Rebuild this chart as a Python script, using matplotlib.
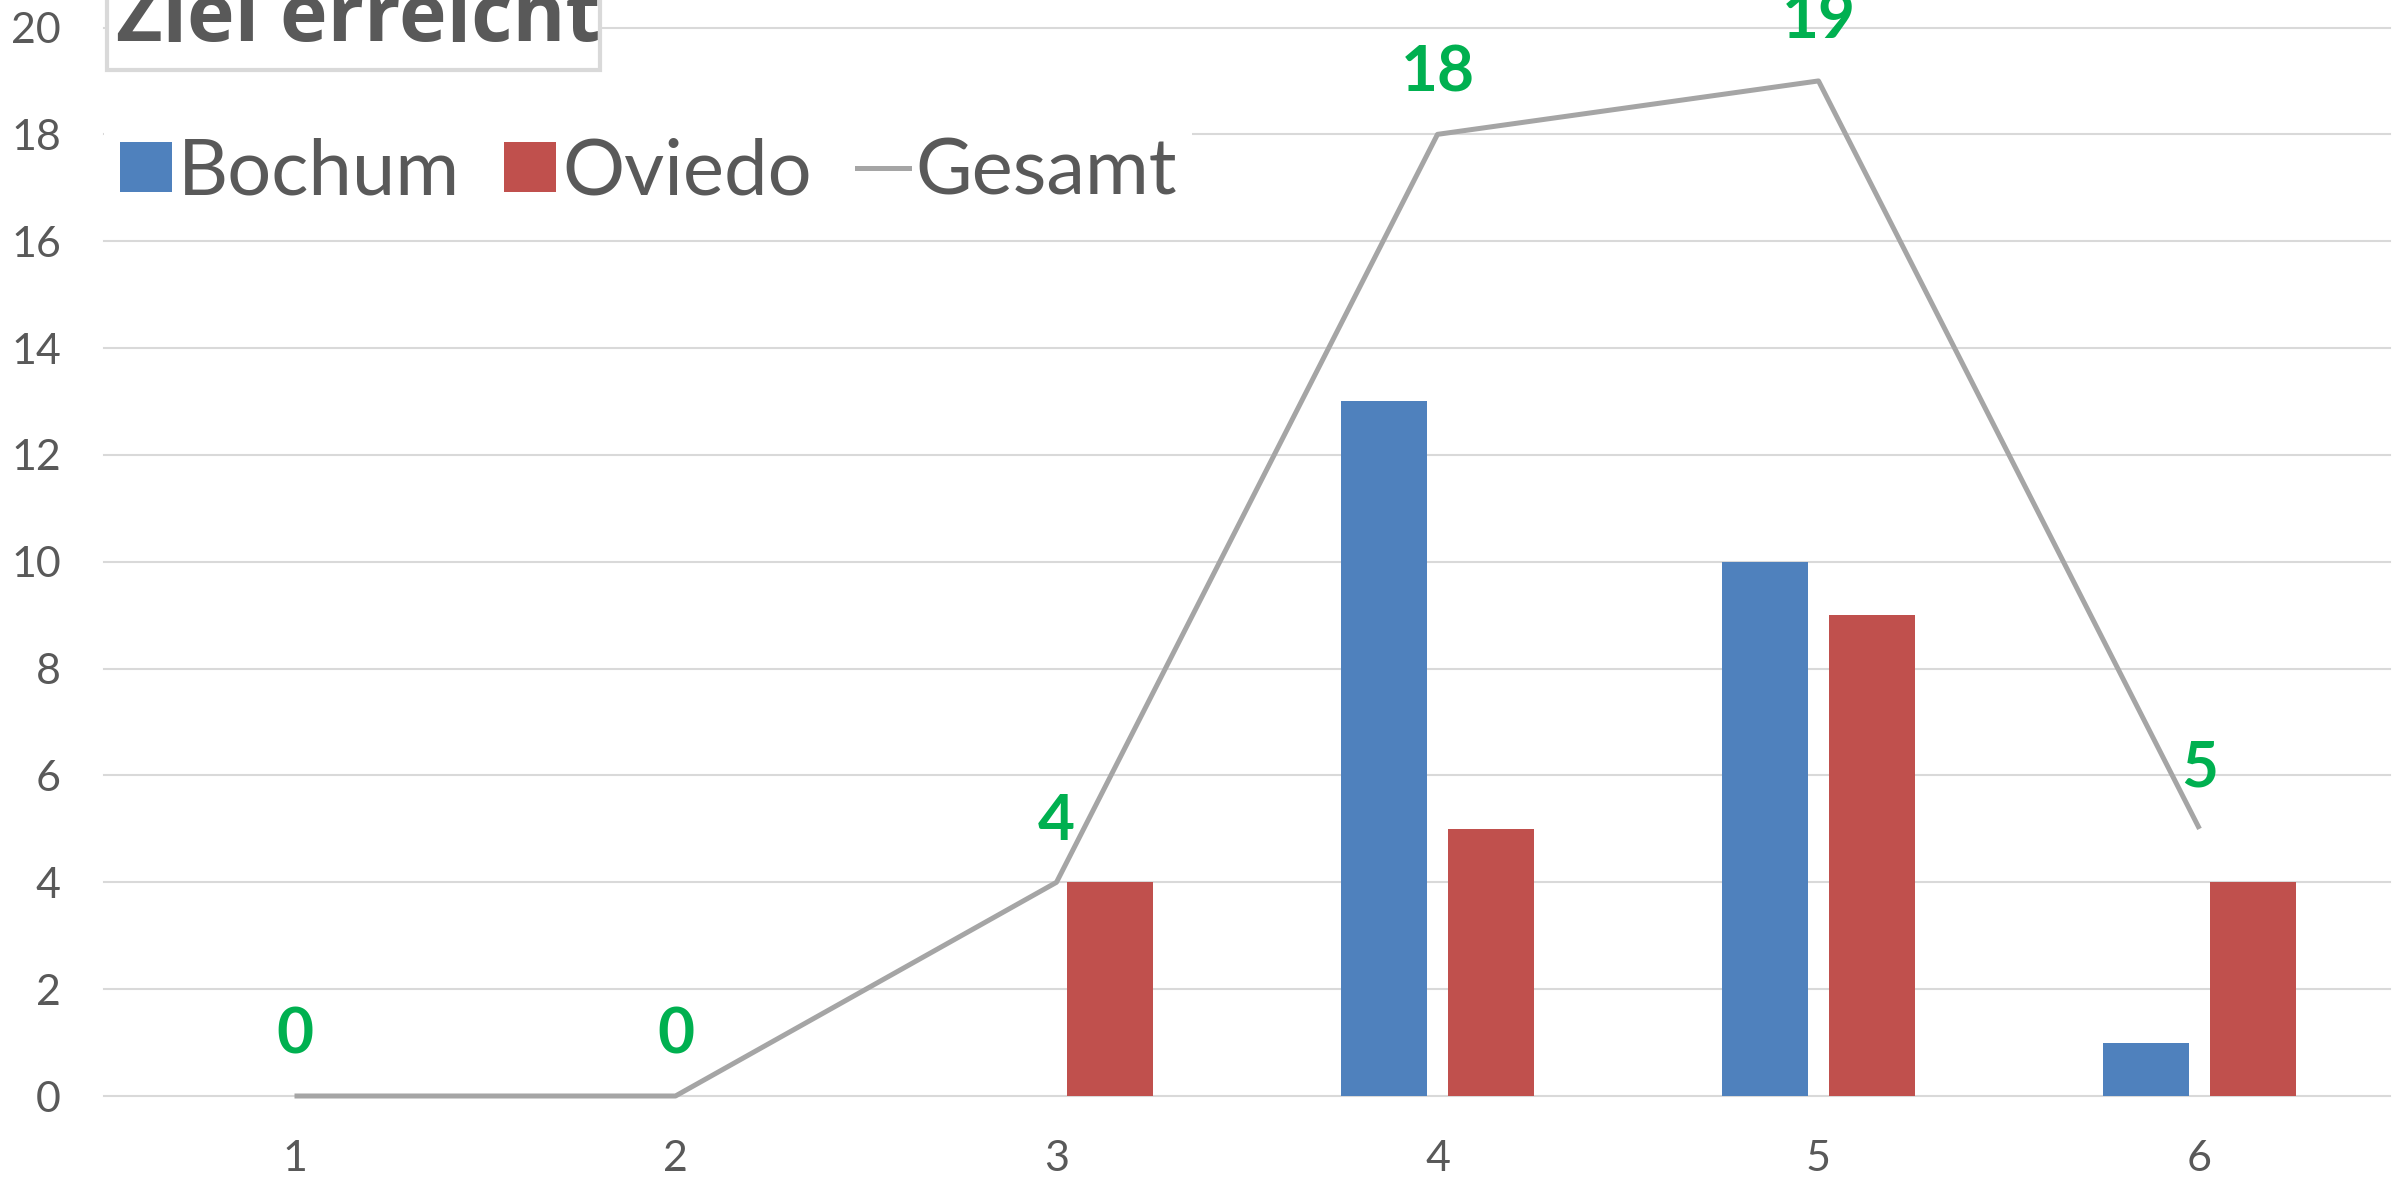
import matplotlib
matplotlib.use("Agg")
import matplotlib.pyplot as plt
from matplotlib.patches import Rectangle, Patch
from matplotlib.lines import Line2D
import numpy as np

categories = [1, 2, 3, 4, 5, 6]
bochum = [0, 0, 0, 13, 10, 1]
oviedo = [0, 0, 4, 5, 9, 4]
gesamt = [0, 0, 4, 18, 19, 5]
y_ticks = [0, 2, 4, 6, 8, 10, 12, 14, 16, 18, 20]

BLUE = "#4F81BD"
RED = "#C0504D"
GREY_LINE = "#A5A5A5"
GREEN = "#00B050"
TEXT = "#595959"
GRID = "#D9D9D9"

plt.rcParams["font.family"] = ["Lato", "DejaVu Sans"]

W, H = 2394, 1182
fig = plt.figure(figsize=(W / 100, H / 100), dpi=100)
ax = fig.add_axes([104 / W, 86 / H, 2286 / W, 1068.5 / H])

x = np.array(categories, dtype=float)
bw = 0.225
off = 0.1406
ax.bar(x - off, bochum, width=bw, color=BLUE, linewidth=0, zorder=3)
ax.bar(x + off, oviedo, width=bw, color=RED, linewidth=0, zorder=3)
ax.plot(x, gesamt, color=GREY_LINE, lw=3.6, zorder=4, solid_capstyle="butt",
        clip_on=False)

for xi, v in zip(x, gesamt):
    ax.annotate(str(v), (xi, v), xytext=(0, 44), textcoords="offset points",
                ha="center", va="center", fontsize=46, fontweight="bold",
                color=GREEN, zorder=5)

ax.set_xlim(0.5, 6.5)
ax.set_ylim(0, 20)
ax.set_yticks(y_ticks)
ax.set_xticks(categories)
ax.set_xticklabels([str(c) for c in categories])
ax.tick_params(axis="both", length=0, labelsize=31, labelcolor=TEXT)
ax.tick_params(axis="y", pad=31)
ax.tick_params(axis="x", pad=32)
for s in ax.spines.values():
    s.set_visible(False)
ax.yaxis.grid(True, color=GRID, lw=1.5, zorder=0)
for gl in ax.get_ygridlines():
    gl.set_clip_on(False)
ax.set_axisbelow(True)

# title box, cut by the top edge
fig.patches.append(Rectangle((107 / W, 1 - 70 / H), 493 / W, 90 / H,
                             transform=fig.transFigure, facecolor="white",
                             edgecolor=GRID, lw=3, zorder=6))
fig.text(116 / W, 1 - 41 / H, "Ziel erreicht", fontsize=58, fontweight="bold",
         family=["Open Sans", "DejaVu Sans"],
         color=TEXT, ha="left", va="baseline", zorder=7)

handles = [Patch(facecolor=BLUE, edgecolor="none"),
           Patch(facecolor=RED, edgecolor="none"),
           Line2D([0], [0], color=GREY_LINE, lw=3.6)]
leg = fig.legend(handles, ["Bochum", "Oviedo", "Gesamt"], ncol=3,
                 loc="center left", bbox_to_anchor=(104 / W, 1 - 173 / H),
                 fontsize=56, frameon=True, fancybox=False, framealpha=1,
                 facecolor="white", edgecolor="none", borderpad=0.2,
                 borderaxespad=0, handlelength=0.67, handleheight=0.62,
                 handletextpad=0.08, columnspacing=0.57, labelcolor=TEXT)

fig.savefig("out.png", dpi=100)
